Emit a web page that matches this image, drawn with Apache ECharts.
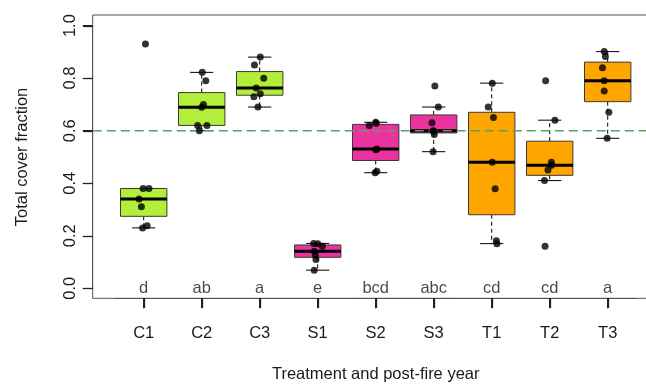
<!DOCTYPE html>
<html>
<head>
<meta charset="utf-8">
<script src="https://cdn.jsdelivr.net/npm/echarts@6/dist/echarts.min.js"></script>
<style>
  html, body { margin: 0; padding: 0; background: #fff; }
  #chart { width: 646px; height: 384px; }
</style>
</head>
<body>
<div id="chart"></div>
<script>
// groups along the x axis
var categories = ['C1', 'C2', 'C3', 'S1', 'S2', 'S3', 'T1', 'T2', 'T3'];
// significance letters printed at y = 0
var letters = ['d', 'ab', 'a', 'e', 'bcd', 'abc', 'cd', 'cd', 'a'];
// observed cover fraction, one list per group
var coverValues = [
  [0.93, 0.38, 0.38, 0.34, 0.31, 0.23, 0.238],
  [0.822, 0.79, 0.70, 0.689, 0.62, 0.62, 0.60],
  [0.88, 0.85, 0.80, 0.762, 0.741, 0.729, 0.69],
  [0.171, 0.17, 0.16, 0.141, 0.126, 0.11, 0.069],
  [0.632, 0.628, 0.62, 0.53, 0.527, 0.446, 0.44],
  [0.77, 0.69, 0.63, 0.60, 0.598, 0.585, 0.52],
  [0.781, 0.69, 0.65, 0.48, 0.379, 0.181, 0.17],
  [0.79, 0.64, 0.48, 0.468, 0.45, 0.41, 0.16],
  [0.901, 0.882, 0.84, 0.79, 0.751, 0.67, 0.571]
];
// horizontal jitter of each point (category units), as seen in the figure
var jitter = [
  [0.03, -0.01, 0.09, -0.08, -0.04, -0.02, 0.06],
  [0.01, 0.07, 0.03, 0.00, -0.07, 0.09, -0.04],
  [0.01, -0.09, 0.07, -0.06, 0.01, -0.10, -0.03],
  [-0.07, 0.00, 0.08, -0.06, -0.04, -0.03, -0.06],
  [0.00, 0.01, -0.11, 0.02, 0.00, 0.02, -0.01],
  [0.02, 0.08, -0.03, -0.01, 0.00, 0.01, -0.01],
  [0.01, -0.06, 0.03, 0.01, 0.06, 0.08, 0.09],
  [-0.07, 0.09, 0.03, 0.03, -0.03, -0.09, -0.08],
  [-0.06, -0.04, -0.09, -0.06, -0.06, 0.02, -0.01]
];
var yTicks = [0, 0.2, 0.4, 0.6, 0.8, 1.0];
var threshold = 0.6;

var fillColors = { C: '#b3ee3a', S: '#eb33a0', T: '#ffa500' };
var font = '"Liberation Sans", Arial, sans-serif';
var FRAME_GAP = 10;   // px between data area and the R frame (bottom)
var Y_OFFSET = 22;    // px between data area and the R frame (left)
var TICK_LEN = 10;

// same as R's boxplot.stats: fivenum hinges, 1.5*IQR whiskers
function boxStats(vals) {
  var x = vals.slice().sort(function (a, b) { return a - b; });
  var n = x.length;
  var n4 = Math.floor((n + 3) / 2) / 2;
  var d = [1, n4, (n + 1) / 2, n + 1 - n4, n];
  var f = d.map(function (k) {
    return 0.5 * (x[Math.floor(k) - 1] + x[Math.ceil(k) - 1]);
  });
  var iqr = f[3] - f[1];
  var loFence = f[1] - 1.5 * iqr, hiFence = f[3] + 1.5 * iqr;
  var inside = x.filter(function (v) { return v >= loFence && v <= hiFence; });
  return [inside[0], f[1], f[2], f[3], inside[inside.length - 1]];
}

var boxData = categories.map(function (c, i) {
  return [i].concat(boxStats(coverValues[i]));
});
var pointData = [];
coverValues.forEach(function (vals, i) {
  vals.forEach(function (v, j) {
    pointData.push([i + jitter[i][j], v]);
  });
});
var letterData = letters.map(function (l, i) { return [i, 0]; });
var xTickData = categories.map(function (c, i) { return [i, 0]; });
var yTickData = yTicks.map(function (v) { return [-0.5, v]; });

function renderBox(params, api) {
  var i = api.value(0);
  var unit = api.size([1, 0])[0];
  var half = unit * 0.4, cap = unit * 0.2;
  var lo = api.coord([i, api.value(1)]);
  var q1 = api.coord([i, api.value(2)]);
  var md = api.coord([i, api.value(3)]);
  var q3 = api.coord([i, api.value(4)]);
  var hi = api.coord([i, api.value(5)]);
  var x = md[0];
  var fill = fillColors[categories[i].charAt(0)];
  var whisker = { stroke: '#000', lineWidth: 1, lineDash: [4, 3] };
  var solid = { stroke: '#000', lineWidth: 1 };
  return {
    type: 'group',
    children: [
      { type: 'line', shape: { x1: x, y1: q3[1], x2: x, y2: hi[1] }, style: whisker },
      { type: 'line', shape: { x1: x, y1: q1[1], x2: x, y2: lo[1] }, style: whisker },
      { type: 'line', shape: { x1: x - cap, y1: hi[1], x2: x + cap, y2: hi[1] }, style: solid },
      { type: 'line', shape: { x1: x - cap, y1: lo[1], x2: x + cap, y2: lo[1] }, style: solid },
      { type: 'rect', shape: { x: x - half, y: q3[1], width: 2 * half, height: q1[1] - q3[1] },
        style: { fill: fill, stroke: '#3a3a3a', lineWidth: 1 } },
      { type: 'line', shape: { x1: x - half, y1: md[1], x2: x + half, y2: md[1] },
        style: { stroke: '#000', lineWidth: 3 } }
    ]
  };
}

// tick marks hanging off the frame, placed through the axis scales
function renderXTick(params, api) {
  var p = api.coord([api.value(0), 0]);
  var x = Math.round(p[0]) + 0.5;
  var y = Math.round(params.coordSys.y + params.coordSys.height + FRAME_GAP);
  return { type: 'line', shape: { x1: x, y1: y, x2: x, y2: y + TICK_LEN },
    style: { stroke: '#222', lineWidth: 1.3 } };
}
function renderYTick(params, api) {
  var p = api.coord([api.value(0), api.value(1)]);
  var y = Math.round(p[1]) + 0.5;
  var x = Math.round(params.coordSys.x - Y_OFFSET);
  return { type: 'line', shape: { x1: x - TICK_LEN, y1: y, x2: x, y2: y },
    style: { stroke: '#222', lineWidth: 1.3 } };
}

var chart = echarts.init(document.getElementById('chart'), null, { renderer: 'canvas' });
chart.setOption({
  animation: false,
  textStyle: { fontFamily: font },
  grid: [
    // plotting area (y 0..1 and category centres)
    { left: 114.7, top: 25.6, width: 522, height: 262.7, outerBoundsMode: 'none', containLabel: false },
    // R-style frame around the plot
    { left: 92.7, top: 15, width: 566, height: 283.3, show: true, outerBoundsMode: 'none',
      containLabel: false, borderColor: '#555', borderWidth: 1, backgroundColor: 'transparent' },
    // category axis sitting on the frame's bottom edge
    { left: 114.7, top: 15, width: 522, height: 283.3, outerBoundsMode: 'none', containLabel: false }
  ],
  xAxis: [
    {
      type: 'category', gridIndex: 2, data: categories, position: 'bottom',
      axisLine: { show: true, onZero: false, lineStyle: { color: '#555' } },
      axisTick: { show: true, interval: 0, alignWithLabel: true, length: TICK_LEN,
        lineStyle: { color: '#222', width: 1 } },
      axisLabel: { show: true, interval: 0, fontSize: 16.5, color: '#1a1a1a', margin: 27 },
      splitLine: { show: false },
      name: 'Treatment and post-fire year', nameLocation: 'middle', nameGap: 68,
      nameTextStyle: { fontSize: 16.5, color: '#1a1a1a' }
    },
    { type: 'value', gridIndex: 0, min: -0.5, max: 8.5, show: false },
    { type: 'value', gridIndex: 1, min: 0, max: 1, show: false }
  ],
  yAxis: [
    {
      type: 'value', gridIndex: 0, min: 0, max: 1, interval: 0.2, offset: Y_OFFSET,
      axisLine: { show: true, onZero: false, lineStyle: { color: '#555' } },
      axisTick: { show: true, inside: false, length: TICK_LEN, lineStyle: { color: '#222', width: 1 } },
      axisLabel: { rotate: 90, fontSize: 16.5, color: '#1a1a1a', margin: 14,
        formatter: function (v) { return yTicks.indexOf(+v.toFixed(1)) >= 0 ? v.toFixed(1) : ''; } },
      splitLine: { show: false },
      name: 'Total cover fraction', nameLocation: 'middle', nameGap: 62, nameRotate: 90,
      nameTextStyle: { fontSize: 16.5, color: '#1a1a1a' }
    },
    { type: 'value', gridIndex: 1, min: -0.0381, max: 1.0404, show: false },
    { type: 'value', gridIndex: 2, min: 0, max: 1, show: false }
  ],
  series: [
    {
      type: 'custom', xAxisIndex: 1, yAxisIndex: 0, z: 2,
      renderItem: renderBox, data: boxData
    },
    {
      type: 'custom', xAxisIndex: 1, yAxisIndex: 0, z: 5, clip: false,
      renderItem: renderXTick, data: xTickData
    },
    {
      type: 'custom', xAxisIndex: 1, yAxisIndex: 0, z: 5, clip: false,
      renderItem: renderYTick, data: yTickData
    },
    {
      type: 'line', xAxisIndex: 2, yAxisIndex: 1, z: 3, symbol: 'none',
      data: [[0, threshold], [1, threshold]],
      lineStyle: { color: '#5e9e6a', width: 1.6, type: [9, 5] }
    },
    {
      type: 'scatter', xAxisIndex: 1, yAxisIndex: 0, z: 4,
      symbolSize: 7, itemStyle: { color: '#000' }, data: pointData
    },
    {
      type: 'scatter', xAxisIndex: 1, yAxisIndex: 0, z: 4, symbolSize: 0,
      data: letterData,
      label: { show: true, position: 'inside', fontSize: 16.5, color: '#1a1a1a',
        formatter: function (p) { return letters[p.dataIndex]; } }
    }
  ]
});
</script>
</body>
</html>
